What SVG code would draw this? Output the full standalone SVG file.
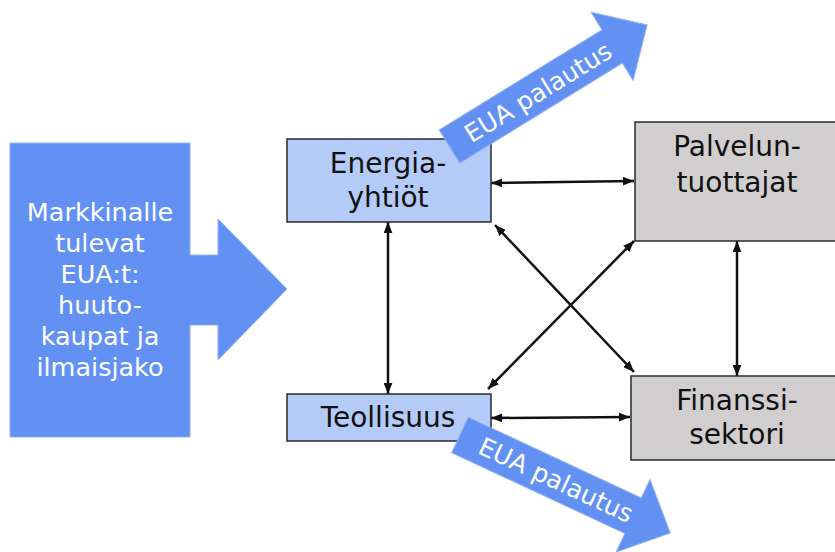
<svg xmlns="http://www.w3.org/2000/svg" width="835" height="552" viewBox="0 0 835 552">
<defs>
<style>
.blue{fill:#b4cbf8;stroke:#2a2a2a;stroke-width:1.5}
.gray{fill:#d0cece;stroke:#2a2a2a;stroke-width:1.5}
.big{fill:#6391f3;stroke:#8fb0f2;stroke-width:1}
.lbl{font-family:"DejaVu Sans",Verdana,sans-serif;font-size:28px;fill:#111;text-anchor:middle}
.wlbl{font-family:"DejaVu Sans",Verdana,sans-serif;font-size:25.5px;fill:#fff;text-anchor:middle}
.eua{font-family:"DejaVu Sans",Verdana,sans-serif;font-size:25px;fill:#fff;text-anchor:middle}
.con{stroke:#111;stroke-width:2.5;fill:none;marker-start:url(#ah);marker-end:url(#ah)}
</style>
<marker id="ah" viewBox="0 0 10 8" refX="10" refY="4" markerWidth="11" markerHeight="9" markerUnits="userSpaceOnUse" orient="auto-start-reverse">
<path d="M0,0 L10,4 L0,8 z" fill="#111"/>
</marker>
</defs>

<g id="markkinalle">
<polygon class="big" points="10,143 190,143 190,255 218,255 218,219 287,289 218,360 218,325 190,325 190,437 10,437"/>
<text class="wlbl" x="100" y="221">Markkinalle</text>
<text class="wlbl" x="100" y="252">tulevat</text>
<text class="wlbl" x="100" y="283">EUA:t:</text>
<text class="wlbl" x="100" y="314">huuto-</text>
<text class="wlbl" x="100" y="345">kaupat ja</text>
<text class="wlbl" x="100" y="376">ilmaisjako</text>
</g>

<g id="connectors">
<line class="con" x1="491" y1="183" x2="634" y2="181"/>
<line class="con" x1="491" y1="418" x2="630" y2="417"/>
<line class="con" x1="388" y1="222" x2="388" y2="394"/>
<line class="con" x1="737" y1="241" x2="737" y2="376"/>
<line class="con" x1="495" y1="225" x2="634" y2="372"/>
<line class="con" x1="634" y1="241" x2="488" y2="389"/>
</g>

<g id="energia">
<rect class="blue" x="287" y="139" width="204" height="83"/>
<text class="lbl" x="388" y="173">Energia-</text>
<text class="lbl" x="388" y="207">yhtiöt</text>
</g>

<g id="teollisuus">
<rect class="blue" x="287" y="394" width="204" height="47"/>
<text class="lbl" x="388" y="427">Teollisuus</text>
</g>

<g id="palvelun">
<rect class="gray" x="635" y="122" width="210" height="119"/>
<text class="lbl" x="737" y="156">Palvelun-</text>
<text class="lbl" x="737" y="192">tuottajat</text>
</g>

<g id="finanssi">
<rect class="gray" x="631" y="376" width="214" height="84"/>
<text class="lbl" x="737" y="410">Finanssi-</text>
<text class="lbl" x="737" y="444">sektori</text>
</g>

<g id="eua-top" transform="translate(449.5,146.5) rotate(-31.6)">
<polygon class="big" points="0,-19.5 191,-19.5 191,-40 232,0 191,40 191,19.5 0,19.5"/>
<text class="eua" x="104" y="9">EUA palautus</text>
</g>

<g id="eua-bottom" transform="translate(460,435) rotate(25)">
<polygon class="big" points="0,-19.5 191,-19.5 191,-40 232,0 191,40 191,19.5 0,19.5"/>
<text class="eua" x="106" y="9">EUA palautus</text>
</g>
</svg>
